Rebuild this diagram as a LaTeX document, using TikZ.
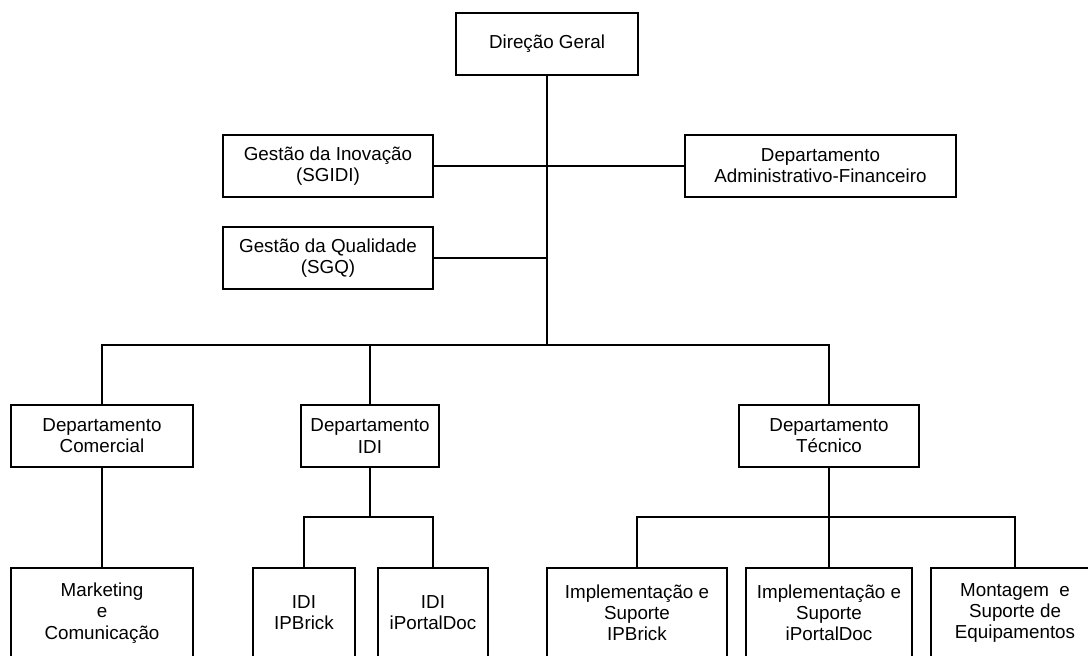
\documentclass[tikz,border=0pt]{standalone}
\usepackage{fontspec}
\setmainfont{Liberation Sans}
\usetikzlibrary{positioning}

\begin{document}
\begin{tikzpicture}[x=0.5pt, y=-0.5pt, node distance=15pt]
    \tikzstyle{unit} = [rectangle, draw, line width=0.9pt, align=center, inner sep=0pt, outer sep=0pt, minimum height=31pt, font=\fontsize{9.4}{10.6}\selectfont]
    \tikzstyle{team} = [unit, minimum height=45pt]
    \tikzstyle{line} = [draw, line width=0.9pt]

    \clip (0,0) rectangle (1088,655);
    \fill [white] (0,0) rectangle (1088,655);

    \node [unit, minimum width=91pt] (dg) at (547,44) {Direção Geral};
    \node [unit, minimum width=105pt] (sgidi) at (328,166) {Gestão da Inovação\\(SGIDI)};
    \node [unit, minimum width=135.5pt] (daf) at (820.5,166) {Departamento\\Administrativo-Financeiro};
    \node [unit, minimum width=105pt, below=of sgidi] (sgq) {Gestão da Qualidade\\(SGQ)};

    \node [unit, minimum width=91pt] (dcom) at (102,436) {Departamento\\Comercial};
    \node [unit, minimum width=69pt] (didi) at (370,436) {Departamento\\IDI};
    \node [unit, minimum width=90pt] (dtec) at (829,436) {Departamento\\Técnico};

    \node [team, minimum width=91pt, below=50.5pt of dcom] (mkt) {Marketing\\e\\Comunicação};
    \node [team, minimum width=51pt] (ipb) at (304,613) {IDI\\IPBrick};
    \node [team, minimum width=55pt] (ipd) at (433,613) {IDI\\iPortalDoc};
    \node [team, minimum width=90pt] (isipb) at (637,613) {Implementação e\\Suporte\\IPBrick};
    \node [team, minimum width=83pt, below=50.5pt of dtec] (isipd) {Implementação e\\Suporte\\iPortalDoc};
    \node [team, minimum width=84pt] (mse) at (1015,613) {Montagem~~e\\Suporte de\\Equipamentos};

    \coordinate (j1) at (547,345);
    \coordinate [below=25pt of didi.south] (j2);
    \coordinate [below=25pt of dtec.south] (j3);

    \path [line] (dg) -- (j1);
    \path [line] (sgidi) -- (daf);
    \path [line] (sgq.east) -- (sgq.east -| j1);
    \path [line] (dcom) |- (j1) -| (dtec);
    \path [line] (didi) -- (didi |- j1);
    \path [line] (dcom) -- (mkt);
    \path [line] (didi) -- (j2);
    \path [line] (ipb) |- (j2) -| (ipd);
    \path [line] (dtec) -- (isipd);
    \path [line] (isipb) |- (j3) -| (mse);
\end{tikzpicture}
\end{document}
